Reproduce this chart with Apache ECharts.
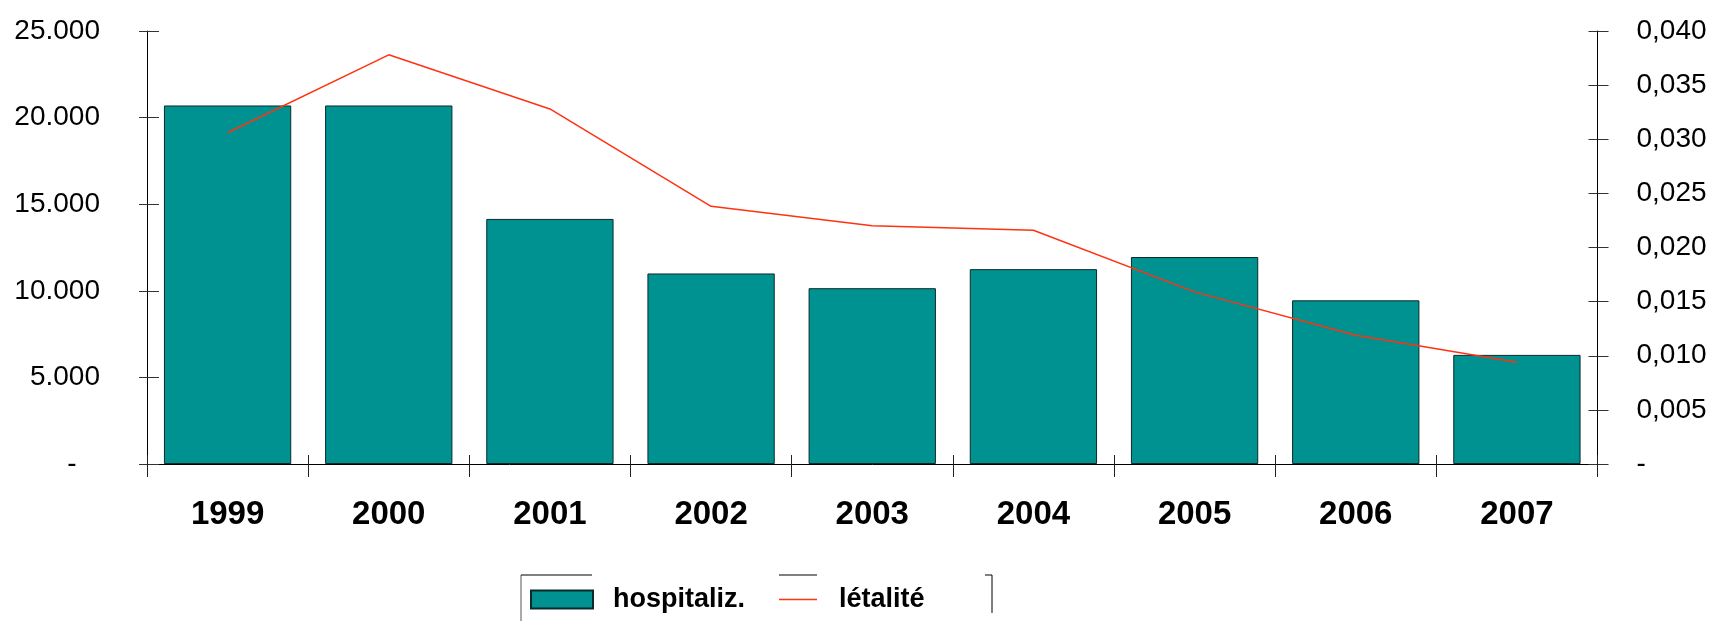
<!DOCTYPE html>
<html>
<head>
<meta charset="utf-8">
<script src="https://cdn.jsdelivr.net/npm/echarts@6/dist/echarts.min.js"></script>
<style>
  html, body { margin: 0; padding: 0; background: #ffffff; }
  #chart { width: 1710px; height: 621px; }
</style>
</head>
<body>
<div id="chart"></div>
<script>
// ---- data ----
const years = ['1999', '2000', '2001', '2002', '2003', '2004', '2005', '2006', '2007'];
const hospitalisations = [20700, 20700, 14150, 11000, 10150, 11250, 11950, 9450, 6300];
const letalite = [0.0306, 0.0378, 0.0328, 0.0238, 0.0220, 0.0216, 0.0159, 0.0119, 0.0094];
const seriesNames = ['hospitaliz.', 'létalité'];
const leftAxisRange = [0, 25000, 5000];
const rightAxisRange = [0, 0.04, 0.005];

// ---- helpers ----
const FONT = "'Liberation Sans', Arial, Helvetica, sans-serif";
function fmtLeft(v) {
  if (v === 0) return '-   ';
  return String(Math.round(v)).replace(/\B(?=(\d{3})+(?!\d))/g, '.');
}
function fmtRight(v) {
  if (Math.abs(v) < 1e-12) return '-';
  return v.toFixed(3).replace('.', ',');
}

const grid = { left: 147, right: 112.5, top: 31, bottom: 157 };

const chart = echarts.init(document.getElementById('chart'), null, { renderer: 'canvas' });

const option = {
  backgroundColor: '#ffffff',
  animation: false,
  textStyle: { fontFamily: FONT },
  grid: [
    Object.assign({}, grid),
    Object.assign({}, grid)
  ],
  legend: [
    {
      data: [{ name: seriesNames[0], icon: 'rect' }],
      left: 530, top: 586, padding: 0,
      itemWidth: 62, itemHeight: 18,
      textStyle: { fontFamily: FONT, fontSize: 27, fontWeight: 'bold', color: '#000', padding: [0, 0, 0, 15] },
      selectedMode: false
    },
    {
      data: [{ name: seriesNames[1], icon: 'path://M0,0h38v1.6h-38z' }],
      left: 779, top: 586, padding: 0,
      itemWidth: 38, itemHeight: 18,
      textStyle: { fontFamily: FONT, fontSize: 27, fontWeight: 'bold', color: '#000', padding: [0, 0, 0, 17] },
      selectedMode: false
    }
  ],
  xAxis: [
    {
      type: 'category', data: years, gridIndex: 0, position: 'bottom',
      axisLine: { show: true, lineStyle: { color: '#000', width: 1 } },
      axisTick: { show: true, length: 13, lineStyle: { color: '#222', width: 1 } },
      axisLabel: { fontFamily: FONT, fontSize: 33, fontWeight: 'bold', color: '#000', margin: 34 },
      splitLine: { show: false }
    },
    {
      type: 'category', data: years, gridIndex: 1, position: 'bottom',
      axisLine: { show: false },
      axisTick: { show: true, inside: true, length: 9, lineStyle: { color: '#222', width: 1 } },
      axisLabel: { show: false },
      splitLine: { show: false }
    }
  ],
  yAxis: [
    {
      type: 'value', gridIndex: 0, position: 'left',
      min: leftAxisRange[0], max: leftAxisRange[1], interval: leftAxisRange[2],
      axisLine: { show: true, lineStyle: { color: '#000', width: 1 } },
      axisTick: { show: true, length: 8, lineStyle: { color: '#333', width: 1 } },
      axisLabel: { fontFamily: FONT, fontSize: 28, color: '#000', margin: 47, formatter: fmtLeft },
      splitLine: { show: false }
    },
    {
      type: 'value', gridIndex: 0, position: 'right',
      min: rightAxisRange[0], max: rightAxisRange[1], interval: rightAxisRange[2],
      axisLine: { show: true, lineStyle: { color: '#000', width: 1 } },
      axisTick: { show: true, length: 11, lineStyle: { color: '#333', width: 1 } },
      axisLabel: { fontFamily: FONT, fontSize: 28, color: '#000', margin: 39, formatter: fmtRight },
      splitLine: { show: false }
    },
    {
      type: 'value', gridIndex: 1, position: 'left',
      min: leftAxisRange[0], max: leftAxisRange[1], interval: leftAxisRange[2],
      axisLine: { show: false },
      axisTick: { show: true, inside: true, length: 12, lineStyle: { color: '#333', width: 1 } },
      axisLabel: { show: false },
      splitLine: { show: false }
    },
    {
      type: 'value', gridIndex: 1, position: 'right',
      min: rightAxisRange[0], max: rightAxisRange[1], interval: rightAxisRange[2],
      axisLine: { show: false },
      axisTick: { show: true, inside: true, length: 9, lineStyle: { color: '#333', width: 1 } },
      axisLabel: { show: false },
      splitLine: { show: false }
    }
  ],
  series: [
    {
      name: seriesNames[0], type: 'bar', xAxisIndex: 0, yAxisIndex: 0,
      data: hospitalisations,
      barCategoryGap: '21%',
      itemStyle: { color: '#009191', borderColor: '#0b2b2b', borderWidth: 1 },
      z: 2
    },
    {
      name: seriesNames[1], type: 'line', xAxisIndex: 0, yAxisIndex: 1,
      data: letalite,
      symbol: 'none', showSymbol: false, smooth: false,
      lineStyle: { color: '#ff3311', width: 1.5 },
      itemStyle: { color: '#ff3311' },
      z: 5
    }
  ],
  graphic: [
    { type: 'line', silent: true, shape: { x1: 521, y1: 575, x2: 521, y2: 621 }, style: { stroke: '#555', lineWidth: 1 } },
    { type: 'line', silent: true, shape: { x1: 521, y1: 575, x2: 592, y2: 575 }, style: { stroke: '#000', lineWidth: 1 } },
    { type: 'line', silent: true, shape: { x1: 779, y1: 575, x2: 817, y2: 575 }, style: { stroke: '#000', lineWidth: 1 } },
    { type: 'line', silent: true, shape: { x1: 985, y1: 575, x2: 992, y2: 575 }, style: { stroke: '#000', lineWidth: 1 } },
    { type: 'line', silent: true, shape: { x1: 992, y1: 575, x2: 992, y2: 613 }, style: { stroke: '#000', lineWidth: 1 } }
  ]
};

chart.setOption(option);
</script>
</body>
</html>
